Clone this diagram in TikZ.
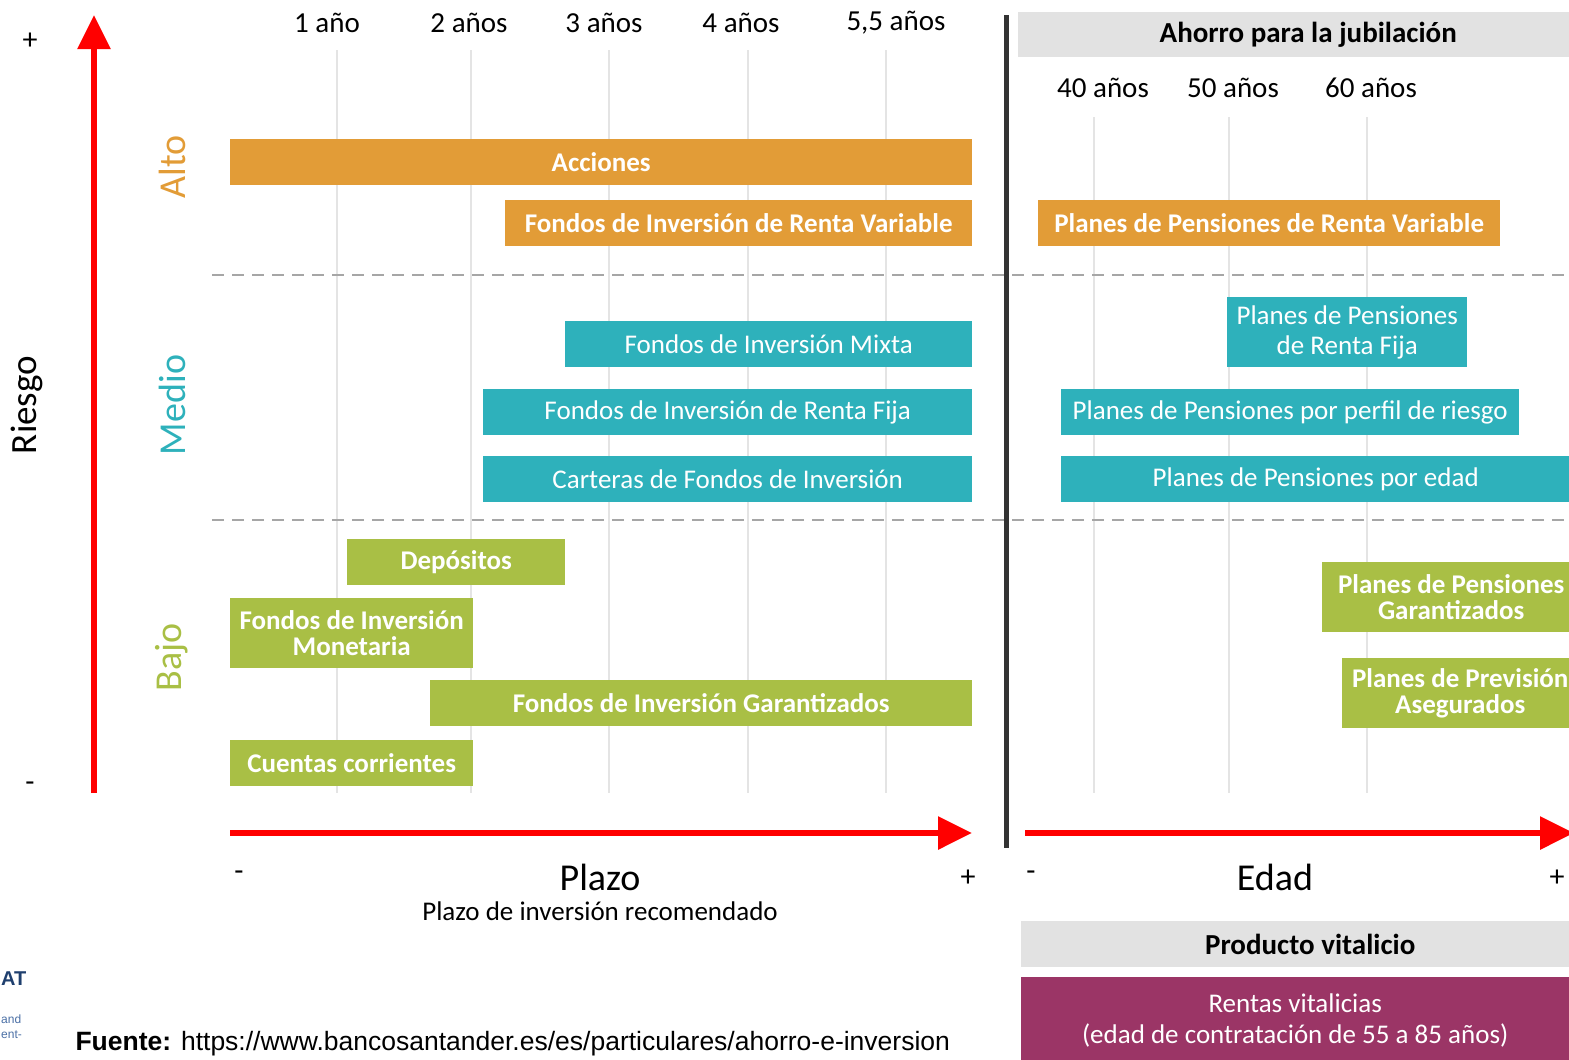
\documentclass[tikz,border=0pt]{standalone}
\usepackage{fontspec}
\setmainfont{Carlito}
\newfontfamily\fuentefont{Liberation Sans}
\usetikzlibrary{arrows.meta, positioning}
\definecolor{riesgo-alto}{HTML}{E29C37}
\definecolor{riesgo-medio}{HTML}{2EB1BB}
\definecolor{riesgo-bajo}{HTML}{A9BF45}
\definecolor{vitalicio}{HTML}{9B3566}
\definecolor{cabecera}{HTML}{E2E2E2}
\definecolor{rejilla}{HTML}{E4E4E4}
\definecolor{logo-azul}{HTML}{1F3F6E}
\definecolor{logo-claro}{HTML}{4A6FA5}

\begin{document}
\begin{tikzpicture}[
    x=1pt, y=-1pt,
    bar/.style={rectangle, text=white, inner sep=0pt, align=center, minimum height=46pt, anchor=west},
    alto/.style={bar, fill=riesgo-alto, font=\fontsize{27}{26}\selectfont\bfseries},
    medio/.style={bar, fill=riesgo-medio, font=\fontsize{27}{30}\selectfont},
    bajo/.style={bar, fill=riesgo-bajo, font=\fontsize{27}{26}\selectfont\bfseries},
    nivel/.style={rotate=90, font=\fontsize{38}{38}\selectfont},
    tick/.style={font=\fontsize{29}{30}\selectfont},
    signo/.style={font=\fontsize{30}{30}\selectfont},
    eje/.style={font=\fontsize{38}{38}\selectfont},
    cabecera/.style={rectangle, fill=cabecera, inner sep=0pt, anchor=north west, minimum height=45pt, font=\fontsize{29}{30}\selectfont\bfseries},
    grid/.style={draw=rejilla, line width=2.5pt},
    separador/.style={draw=gray!70, line width=1.5pt, dash pattern=on 12pt off 8pt},
    axis/.style={draw=red, line width=6pt, -{Triangle[length=34pt, width=32pt]}}
]
\useasboundingbox (0,0) rectangle (1569,1060);

% Plazo grid
\foreach \x in {337,471,609,748,886} \draw[grid] (\x,50) -- (\x,793);
\node[tick] (t1) at (327,23) {1 año};
\node[tick] (t2) at (469,23) {2 años};
\node[tick] (t3) at (604,23) {3 años};
\node[tick] (t4) at (741,23) {4 años};
\node[tick] (t5) at (896,23) {5,5 años};

% Edad grid
\foreach \x in {1094,1229,1367} \draw[grid] (\x,117) -- (\x,793);
\node[cabecera, minimum width=580pt] (ahorro) at (1018,12) {Ahorro para la jubilación};
\node[tick] (e40) at (1103,88) {40 años};
\node[tick] (e50) at (1233,88) {50 años};
\node[tick] (e60) at (1371,88) {60 años};

% Risk separators
\draw[separador] (212,275) -- (1569,275);
\draw[separador] (212,520) -- (1569,520);

% Riesgo axis
\coordinate (riesgo-min) at (94,793);
\coordinate (riesgo-max) at (94,15);
\draw[axis] (riesgo-min) -- (riesgo-max);
\node[signo] (riesgo-mas) at (30,41) {+};
\node[signo] (riesgo-menos) at (30,787) {-};
\node[rotate=90, font=\fontsize{37}{37}\selectfont] (riesgo) at (27,405) {Riesgo};
\node[nivel, text=riesgo-alto] (alto) at (172,167) {Alto};
\node[nivel, text=riesgo-medio] (medio) at (172,405) {Medio};
\node[nivel, text=riesgo-bajo] (bajo) at (172,657) {Bajo};

% Alto
\node[alto, minimum width=742pt] (acciones) at (230,162) {Acciones};
\node[alto, minimum width=467pt] (fi-variable) at (505,223) {Fondos de Inversión de Renta Variable};
\node[alto, minimum width=462pt] (pp-variable) at (1038,223) {Planes de Pensiones de Renta Variable};

% Medio
\node[medio, minimum width=407pt] (fi-mixta) at (565,344) {Fondos de Inversión Mixta};
\node[medio, minimum width=489pt] (fi-fija) at (483,412) {Fondos de Inversión de Renta Fija};
\node[medio, minimum width=489pt] (carteras) at (483,479) {Carteras de Fondos de Inversión};
\node[medio, minimum width=240pt, minimum height=70pt] (pp-fija) at (1227,332) {Planes de Pensiones\\de Renta Fija};
\node[medio, minimum width=458pt] (pp-perfil) at (1061,412) {Planes de Pensiones por perfil de riesgo};
\node[medio, minimum width=509pt] (pp-edad) at (1061,479) {Planes de Pensiones por edad};

% Bajo
\node[bajo, minimum width=218pt] (depositos) at (347,562) {Depósitos};
\node[bajo, minimum width=243pt, minimum height=70pt] (fi-monetaria) at (230,633) {Fondos de Inversión\\Monetaria};
\node[bajo, minimum width=542pt] (fi-garantizados) at (430,703) {Fondos de Inversión Garantizados};
\node[bajo, minimum width=243pt] (cuentas) at (230,763) {Cuentas corrientes};
\node[bajo, minimum width=258pt, minimum height=70pt] (pp-garantizados) at (1322,597) {Planes de Pensiones\\Garantizados};
\node[bajo, minimum width=236pt, minimum height=70pt] (pp-asegurados) at (1342,693) {Planes de Previsión\\Asegurados};

% Divider
\coordinate (div-top) at (1006,15);
\coordinate (div-bottom) at (1006,848);
\draw[line width=5pt, black!80] (div-top) -- (div-bottom);

% Plazo axis
\coordinate (plazo-min) at (230,833);
\coordinate (plazo-max) at (972,833);
\draw[axis] (plazo-min) -- (plazo-max);
\node[signo] (plazo-menos) at (239,876) {-};
\node[signo] (plazo-mas) at (968,878) {+};
\node[eje] (plazo) at (600,877) {Plazo};
\node[below=4pt of plazo, font=\fontsize{27}{28}\selectfont] (plazo-sub) {Plazo de inversión recomendado};

% Edad axis
\coordinate (edad-min) at (1025,833);
\coordinate (edad-max) at (1574,833);
\draw[axis] (edad-min) -- (edad-max);
\node[signo] (edad-menos) at (1031,876) {-};
\node[signo] (edad-mas) at (1557,878) {+};
\node[eje] (edad) at (1275,877) {Edad};

% Producto vitalicio
\node[cabecera, minimum width=578pt, minimum height=46pt] (producto) at (1021,921) {Producto vitalicio};
\node[rectangle, fill=vitalicio, text=white, inner sep=0pt, align=center, anchor=north west, minimum width=548pt, minimum height=86pt, font=\fontsize{27}{31}\selectfont] (rentas) at (1021,977) {Rentas vitalicias\\(edad de contratación de 55 a 85 años)};

% Source and logo remains
\node[anchor=west, inner sep=0pt, text=logo-azul, font=\fuentefont\fontsize{20}{20}\selectfont\bfseries] (logo) at (1,979) {AT};
\node[anchor=west, inner sep=0pt, text=logo-claro, font=\fuentefont\fontsize{12}{12}\selectfont] (logo-a) at (1,1019) {and};
\node[anchor=west, inner sep=0pt, text=logo-claro, font=\fuentefont\fontsize{12}{12}\selectfont] (logo-b) at (1,1035) {ent-};
\node[anchor=west, font=\fuentefont\fontsize{26.5}{26.5}\selectfont] (fuente) at (72,1044) {\textbf{Fuente:} https://www.bancosantander.es/es/particulares/ahorro-e-inversion};

\end{tikzpicture}
\end{document}
